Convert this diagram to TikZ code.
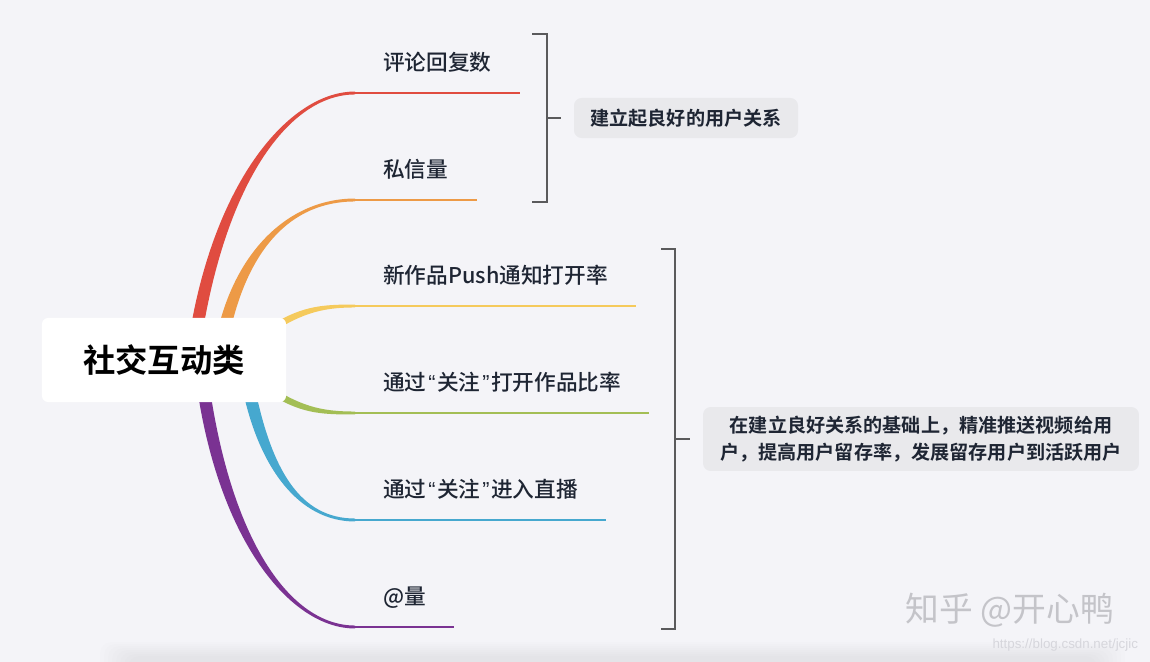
\documentclass[tikz,border=0pt]{standalone}
\usepackage{fontspec}
\setmainfont{Noto Sans CJK SC}[BoldFont=* Bold,FontFace={mb}{n}{* Medium}]
\newfontfamily\latinfont{Liberation Sans}
\usetikzlibrary{positioning}

\definecolor{bgpaper}{RGB}{244,244,248}
\definecolor{inkdark}{RGB}{30,37,51}
\definecolor{twigred}{RGB}{224,76,64}
\definecolor{twigorange}{RGB}{237,154,70}
\definecolor{twigyellow}{RGB}{245,202,92}
\definecolor{twiggreen}{RGB}{163,190,85}
\definecolor{twigblue}{RGB}{70,168,207}
\definecolor{twigpurple}{RGB}{122,50,146}
\definecolor{bracegray}{RGB}{90,90,92}
\definecolor{notefill}{RGB}{233,233,236}
\definecolor{markgray}{RGB}{196,196,201}

% tapered branch: colour, start, end, 1st control, 2nd control, side shifts
\newcommand{\twig}[7]{%
  \fill[#1] ([#6]#2) .. controls +#4 and +#5 .. ([yshift=1.05pt]#3)
    -- ([yshift=-1.05pt]#3) .. controls +#5 and +#4 .. ([#7]#2) -- cycle;}
\newcommand{\qopen}{\makebox[7.6pt]{\latinfont “}}
\newcommand{\qclose}{\makebox[7.6pt]{\latinfont ”}}

\begin{document}
\begin{tikzpicture}[x=0.025cm,y=-0.025cm,
  rootbox/.style={fill=white,rounded corners=4.5pt,minimum width=173.6pt,minimum height=59.8pt,
    font=\fontsize{23}{28}\selectfont\bfseries,text=black},
  leaf/.style={anchor=south west,inner xsep=19.9pt,inner ysep=16pt,text depth=0pt,
    font=\fontsize{15.4}{18}\selectfont\fontseries{mb}\selectfont,text=inkdark},
  note/.style={fill=notefill,rounded corners=5.5pt,align=center,
    font=\fontsize{13.6}{19.2}\selectfont\bfseries,text=inkdark},
  brace/.style={draw=bracegray,line width=2pt},
  under/.style={line width=2.1pt}]

  \useasboundingbox (0,0) rectangle (1150,662);
  \fill[bgpaper] (0,0) rectangle (1150,662);
  \foreach \d in {0,2,...,14}
    \fill[black,opacity=0.009,rounded corners=8pt] (100+2*\d,642+\d) rectangle (1125-2*\d,680);

  % leaves
  \node[leaf] (t1) at (355,93) {评论回复数};
  \node[leaf] (t2) at (355,200) {私信量};
  \node[leaf] (t3) at (355,306) {新作品Push通知打开率};
  \node[leaf] (t4) at (355,413) {通过\qopen 关注\qclose 打开作品比率};
  \node[leaf] (t5) at (355,520) {通过\qopen 关注\qclose 进入直播};
  \node[leaf] (t6) at (355,627) {@量};

  \draw[under,twigred] (t1.south west) -- (t1.south east);
  \draw[under,twigorange] (t2.south west) -- (t2.south east);
  \draw[under,twigyellow] (t3.south west) -- (t3.south east);
  \draw[under,twiggreen] (t4.south west) -- (t4.south east);
  \draw[under,twigblue] (t5.south west) -- (t5.south east);
  \draw[under,twigpurple] (t6.south west) -- (t6.south east);

  % branch roots, behind the central box
  \coordinate (r1) at (195,340);
  \coordinate (r2) at (222,340);
  \coordinate (r3) at (265,333);
  \coordinate (r4) at (265,387);
  \coordinate (r5) at (248,385);
  \coordinate (r6) at (203,385);

  \twig{twigred}{r1}{t1.south west}{(25,-160)}{(-65,0)}{xshift=-4.5pt}{xshift=4.5pt}
  \twig{twigorange}{r2}{t2.south west}{(18,-90)}{(-65,0)}{xshift=-4.5pt}{xshift=4.5pt}
  \twig{twigyellow}{r3}{t3.south west}{(35,-23)}{(-35,0)}{yshift=2.8pt}{yshift=-2.8pt}
  \twig{twiggreen}{r4}{t4.south west}{(35,23)}{(-35,0)}{yshift=2.8pt}{yshift=-2.8pt}
  \twig{twigblue}{r5}{t5.south west}{(17,85)}{(-55,0)}{xshift=4.5pt}{xshift=-4.5pt}
  \twig{twigpurple}{r6}{t6.south west}{(22,155)}{(-65,0)}{xshift=4.5pt}{xshift=-4.5pt}

  \node[rootbox] (root) at (164,360) {社交互动类};

  % summaries
  \node[note,minimum width=159.3pt,minimum height=28.5pt] (sum1) at (686,118) {建立起良好的用户关系};
  \node[note,minimum width=310pt,minimum height=45.5pt] (sum2) at (921,439)
    {在建立良好关系的基础上，精准推送视频给用\\户，提高用户留存率，发展留存用户到活跃用户};

  \draw[brace] (532,34) -- (547,34) -- (547,202) -- (532,202);
  \coordinate (k1) at (547,118);
  \draw[brace] (k1) -- ++(14,0);
  \draw[brace] (661,249) -- (675,249) -- (675,629) -- (661,629);
  \coordinate (k2) at (675,439);
  \draw[brace] (k2) -- ++(15,0);

  % watermarks
  \node[font=\fontsize{24}{28}\selectfont,text=markgray] (zhihu) at (1010,610) {知乎 @开心鸭};
  \node[font=\latinfont\fontsize{9.5}{11}\selectfont,text={rgb,255:red,214;green,214;blue,220},anchor=east] (csdn) at (1143,645) {https://blog.csdn.net/jcjic};
\end{tikzpicture}
\end{document}
